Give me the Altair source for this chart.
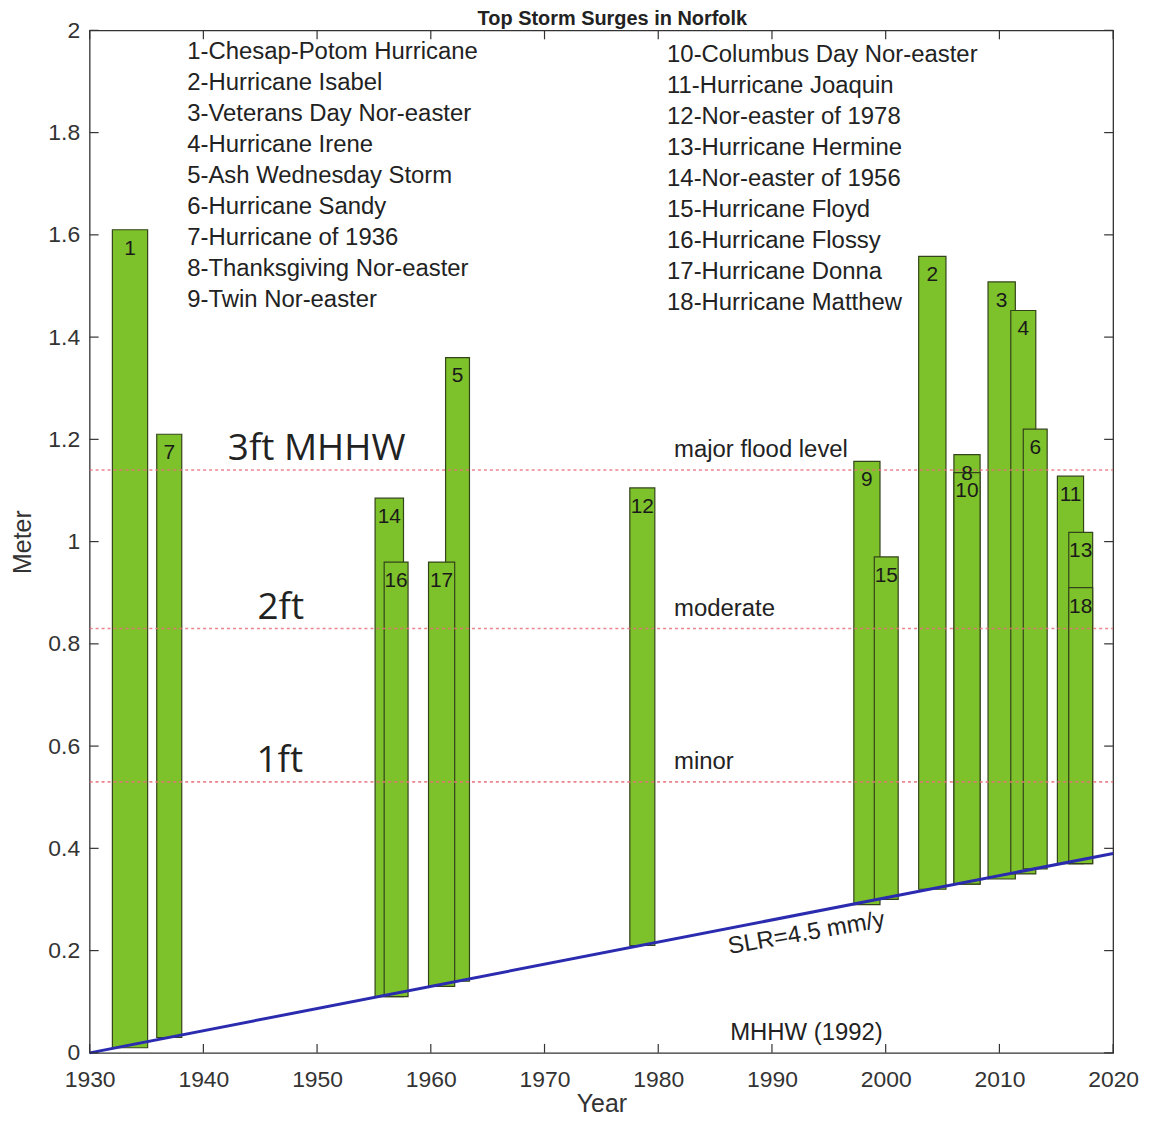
import altair as alt
import pandas as pd

# ---------------- data ----------------
storm_ids = [1, 7, 14, 16, 17, 5, 12, 9, 15, 2, 8, 10, 3, 4, 6, 11, 13, 18]
bar_start = [1932.0, 1935.9, 1955.1, 1955.9, 1959.8, 1961.3, 1977.5, 1997.2, 1999.0,
             2002.9, 2006.0, 2006.0, 2009.0, 2011.0, 2012.1, 2015.1, 2016.1, 2016.1]
bar_end = [1935.1, 1938.1, 1957.6, 1958.0, 1962.1, 1963.4, 1979.7, 1999.5, 2001.1,
           2005.3, 2008.3, 2008.3, 2011.4, 2013.2, 2014.2, 2017.4, 2018.2, 2018.2]
bar_base = [0.01, 0.03, 0.11, 0.11, 0.13, 0.14, 0.21, 0.29, 0.30,
            0.32, 0.33, 0.33, 0.34, 0.35, 0.36, 0.37, 0.37, 0.37]
bar_top = [1.61, 1.21, 1.085, 0.96, 0.96, 1.36, 1.105, 1.157, 0.97,
           1.558, 1.17, 1.135, 1.508, 1.452, 1.22, 1.128, 1.018, 0.91]

storm_names = [
    "1-Chesap-Potom Hurricane", "2-Hurricane Isabel", "3-Veterans Day Nor-easter",
    "4-Hurricane Irene", "5-Ash Wednesday Storm", "6-Hurricane Sandy",
    "7-Hurricane of 1936", "8-Thanksgiving Nor-easter", "9-Twin Nor-easter",
    "10-Columbus Day Nor-easter", "11-Hurricane Joaquin", "12-Nor-easter of 1978",
    "13-Hurricane Hermine", "14-Nor-easter of 1956", "15-Hurricane Floyd",
    "16-Hurricane Flossy", "17-Hurricane Donna", "18-Hurricane Matthew",
]

slr_years = [1930, 2020]
slr_levels = [0.0, 0.39]

flood_levels = [1.14, 0.83, 0.53]
flood_names = ["major flood level", "moderate", "minor"]
flood_feet = ["3ft MHHW", "2ft", "1ft"]

x_ticks = [1930, 1940, 1950, 1960, 1970, 1980, 1990, 2000, 2010, 2020]
y_ticks = [0, 0.2, 0.4, 0.6, 0.8, 1, 1.2, 1.4, 1.6, 1.8, 2]

# ---------------- layout ----------------
W, H = 1028, 1027
FONT = "Liberation Sans"
TXT = "#222222"

bars = pd.DataFrame({
    "id": storm_ids, "x0": bar_start, "x1": bar_end,
    "y0": bar_base, "y1": bar_top,
})
bars["order"] = bars["id"]
bars = bars.sort_values("order").reset_index(drop=True)
bars["xc"] = (bars["x0"] + bars["x1"]) / 2
bars["label"] = bars["id"].astype(str)

xscale = alt.Scale(domain=[1930, 2020], nice=False, zero=False)
yscale = alt.Scale(domain=[0, 2], nice=False, zero=False)

base = alt.Chart(bars)

rects = base.mark_rect(color="#7dc12b", stroke="#34441a", strokeWidth=1.2).encode(
    x=alt.X("x0:Q", scale=xscale,
            axis=alt.Axis(values=x_ticks, title="Year", format="d")),
    x2="x1:Q",
    y=alt.Y("y0:Q", scale=yscale,
            axis=alt.Axis(values=y_ticks, title="Meter",
                          labelExpr="format(datum.value, '~g')")),
    y2="y1:Q",
    order="order:Q",
)

labels = base.mark_text(font=FONT, fontSize=21, color="#1a1a1a",
                        baseline="middle", align="center", dy=19).encode(
    x=alt.X("xc:Q", scale=xscale), y=alt.Y("y1:Q", scale=yscale), text="label:N"
)

flood_df = pd.DataFrame({"lvl": flood_levels, "name": flood_names, "feet": flood_feet})
flood_rules = alt.Chart(flood_df).mark_rule(
    color="#e8707a", strokeDash=[3, 3], strokeWidth=1.6, opacity=0.85
).encode(y=alt.Y("lvl:Q", scale=yscale), x=alt.value(0), x2=alt.value(W))

flood_text = alt.Chart(flood_df).mark_text(
    font=FONT, fontSize=24, color=TXT, align="left", baseline="middle", dy=-20
).encode(y=alt.Y("lvl:Q", scale=yscale), x=alt.value(587), text="name:N")

feet_x = [228, 192, 191]  # pixel centres of the big foot labels
feet_layers = []
for i, fx in enumerate(feet_x):
    feet_layers.append(
        alt.Chart(flood_df.iloc[[i]]).mark_text(
            font="Open Sans", fontSize=37, color=TXT, align="center",
            baseline="middle", dy=-21
        ).encode(y=alt.Y("lvl:Q", scale=yscale), x=alt.value(fx), text="feet:N")
    )

slr_df = pd.DataFrame({"yr": slr_years, "lvl": slr_levels})
slr_line = alt.Chart(slr_df).mark_line(color="#2b2bb0", strokeWidth=3).encode(
    x=alt.X("yr:Q", scale=xscale), y=alt.Y("lvl:Q", scale=yscale)
)

def note(text, px, py, size=24, angle=0, align="center", weight="normal", baseline="middle"):
    kw = dict(font=FONT, fontSize=size, color=TXT, align=align,
              baseline=baseline, fontWeight=weight)
    if angle:
        kw["angle"] = angle
    return alt.Chart(pd.DataFrame({"t": [text]})).mark_text(**kw).encode(
        x=alt.value(px), y=alt.value(py), text="t:N")

slr_note = note("SLR=4.5 mm/y", 720, 907, angle=350)
mhhw_note = note("MHHW (1992)", 720, 1007)
title_note = note("Top Storm Surges in Norfolk", 525, -5, size=20,
                  weight="bold", baseline="alphabetic")

leg_left = pd.DataFrame({"t": storm_names[:9]})
leg_left["py"] = [22 + 31.1 * i for i in range(len(leg_left))]
leg_right = pd.DataFrame({"t": storm_names[9:]})
leg_right["py"] = [25 + 31.1 * i for i in range(len(leg_right))]

legend_l = alt.Chart(leg_left).mark_text(
    font=FONT, fontSize=24, color=TXT, align="left", baseline="middle"
).encode(x=alt.value(98), y=alt.Y("py:Q", scale=None), text="t:N")
legend_r = alt.Chart(leg_right).mark_text(
    font=FONT, fontSize=24, color=TXT, align="left", baseline="middle"
).encode(x=alt.value(580), y=alt.Y("py:Q", scale=None), text="t:N")

# inward ticks on all four sides
TL = 9
xt = alt.Chart(pd.DataFrame({"v": x_ticks}))
yt = alt.Chart(pd.DataFrame({"v": y_ticks}))
tick_style = dict(color="#333333", strokeWidth=1.2)
ticks_bottom = xt.mark_rule(**tick_style).encode(
    x=alt.X("v:Q", scale=xscale), y=alt.value(H - TL), y2=alt.value(H))
ticks_top = xt.mark_rule(**tick_style).encode(
    x=alt.X("v:Q", scale=xscale), y=alt.value(0), y2=alt.value(TL))
ticks_left = yt.mark_rule(**tick_style).encode(
    y=alt.Y("v:Q", scale=yscale), x=alt.value(0), x2=alt.value(TL))
ticks_right = yt.mark_rule(**tick_style).encode(
    y=alt.Y("v:Q", scale=yscale), x=alt.value(W - TL), x2=alt.value(W))

chart = alt.layer(
    rects, flood_rules, labels, slr_line, flood_text, *feet_layers,
    slr_note, mhhw_note, title_note, legend_l, legend_r,
    ticks_bottom, ticks_top, ticks_left, ticks_right,
).resolve_scale(x="shared", y="shared").properties(
    width=W, height=H,
    autosize=alt.AutoSizeParams(type="none"),
    padding={"left": 82, "top": 20, "right": 28, "bottom": 66},
    background="white",
).configure_view(
    stroke="#333333", strokeWidth=1.3
).configure_axis(
    domain=False, ticks=False, grid=False,
    labelFont=FONT, labelFontSize=23, labelColor="#333333",
    titleFont=FONT, titleFontSize=25, titleFontWeight="normal", titleColor="#333333",
).configure_axisX(
    labelPadding=16, titlePadding=0, labelFlush=False, labelOverlap=False
).configure_axisY(
    labelPadding=10, titlePadding=12
)

chart.save("out.html", embed_options={"renderer": "svg", "actions": False})
